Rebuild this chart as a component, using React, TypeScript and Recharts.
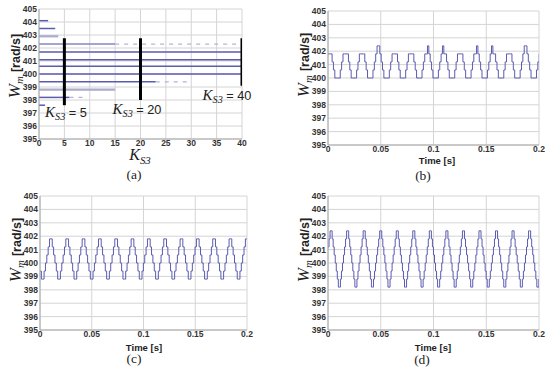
import React from 'react';
import { LineChart, Line, XAxis, YAxis, CartesianGrid } from 'recharts';

// axis ticks
const wTicks = [395, 396, 397, 398, 399, 400, 401, 402, 403, 404, 405];
const kTicks = [0, 5, 10, 15, 20, 25, 30, 35, 40];
const timeTicks = [0, 0.05, 0.1, 0.15, 0.2];

// (a) speed levels visited vs K_S3, and how far along K each one reaches
const levelsA = [397.6, 398.2, 398.8, 399.4, 400.0, 400.6, 401.1, 401.7, 402.3, 402.9, 403.5, 404.1];
const levelEndA = [1.2, 9.4, 15, 30, 40, 40, 40, 40, 40, 3.8, 3.2, 1.8];
const levelSolidToA = [1.2, 6, 15, 23, 40, 40, 40, 40, 15, 3.8, 3.2, 1.8];
// ripple band marked for the three gains
const markK = [5, 20, 40];
const markLow = [397.6, 398.0, 399.1];
const markHigh = [402.75, 402.75, 402.75];

// (b) K_S3 = 5, sampled every DT_B seconds
const DT_B = 0.0155 / 12;
const wmB = [
  401.8, 401.8, 401.8,
  401.2, 400.6, 400, 400, 400, 400, 400.6, 401.2, 401.8, 401.8, 401.8, 401.8,
  401.2, 400.6, 400, 400, 400, 400, 400.6, 401.2, 401.8, 401.8, 401.8, 401.8,
  401.2, 400.6, 400, 400, 400, 400, 400.6, 401.2, 401.8, 402.4, 402.4, 401.8,
  401.2, 400.6, 400, 400, 400, 400, 400.6, 401.2, 401.8, 401.8, 401.8, 401.8,
  401.2, 400.6, 400, 400, 400, 400, 400.6, 401.2, 401.8, 401.8, 401.8, 401.8,
  401.2, 400.6, 400, 400, 400, 400, 400.6, 401.2, 401.8, 401.8, 402.4, 401.8,
  401.2, 400.6, 400, 400, 400, 400, 400.6, 401.2, 401.8, 402.4, 401.8, 401.8,
  401.2, 400.6, 400, 400, 400, 400, 400.6, 401.2, 401.8, 401.8, 401.8, 401.8,
  401.2, 400.6, 400, 400, 400, 400, 400.6, 401.2, 401.8, 401.8, 402.4, 401.8,
  401.2, 400.6, 400, 400, 400, 400, 400.6, 401.2, 401.8, 402.4, 401.8, 401.8,
  401.2, 400.6, 400, 400, 400, 400, 400.6, 401.2, 401.8, 401.8, 401.8, 401.8,
  401.2, 400.6, 400, 400, 400, 400, 400.6, 401.2, 401.8, 402.4, 402.4, 401.8,
  401.2, 400.6, 400, 400, 400, 400, 400.6, 401.2, 401.8,
];

// (c) K_S3 = 20
const DT_C = 0.01577 / 12;
const wmC = [
  399.4,
  398.8, 398.8, 399.4, 400, 400.6, 401.2, 401.8, 401.8, 401.2, 400.6, 400, 399.4,
  398.8, 398.8, 399.4, 400, 400.6, 401.2, 401.8, 401.8, 401.2, 400.6, 400, 399.4,
  398.8, 398.8, 399.4, 400, 400.6, 401.2, 401.8, 401.8, 401.2, 400.6, 400, 399.4,
  398.8, 398.8, 399.4, 400, 400.6, 401.2, 401.8, 401.8, 401.2, 400.6, 400, 399.4,
  398.8, 398.8, 399.4, 400, 400.6, 401.2, 401.8, 401.8, 401.2, 400.6, 400, 399.4,
  398.8, 398.8, 399.4, 400, 400.6, 401.2, 401.8, 401.8, 401.2, 400.6, 400, 399.4,
  398.8, 398.8, 399.4, 400, 400.6, 401.2, 401.8, 401.8, 401.2, 400.6, 400, 399.4,
  398.8, 398.8, 399.4, 400, 400.6, 401.2, 401.8, 401.8, 401.2, 400.6, 400, 399.4,
  398.8, 398.8, 399.4, 400, 400.6, 401.2, 401.8, 401.8, 401.2, 400.6, 400, 399.4,
  398.8, 398.8, 399.4, 400, 400.6, 401.2, 401.8, 401.8, 401.2, 400.6, 400, 399.4,
  398.8, 398.8, 399.4, 400, 400.6, 401.2, 401.8, 401.8, 401.2, 400.6, 400, 399.4,
  398.8, 398.8, 399.4, 400, 400.6, 401.2, 401.8, 401.8, 401.2, 400.6, 400, 399.4,
  398.8, 398.8, 399.4, 400, 400.6, 401.2, 401.8, 401.8, 401.2,
];

// (d) K_S3 = 40
const DT_D = 0.00098;
const wmD = [
  401.2, 401.8, 402.4, 402.4,
  401.8, 401.2, 400.6, 400, 399.4, 398.8, 398.2, 398.2, 398.8, 399.4, 400, 400.6, 401.2, 401.8, 402.4, 402.4,
  401.8, 401.2, 400.6, 400, 399.4, 398.8, 398.2, 398.2, 398.8, 399.4, 400, 400.6, 401.2, 401.8, 402.4, 402.4,
  401.8, 401.2, 400.6, 400, 399.4, 398.8, 398.2, 398.2, 398.8, 399.4, 400, 400.6, 401.2, 401.8, 402.4, 402.4,
  401.8, 401.2, 400.6, 400, 399.4, 398.8, 398.2, 398.2, 398.8, 399.4, 400, 400.6, 401.2, 401.8, 402.4, 402.4,
  401.8, 401.2, 400.6, 400, 399.4, 398.8, 398.2, 398.2, 398.8, 399.4, 400, 400.6, 401.2, 401.8, 402.4, 402.4,
  401.8, 401.2, 400.6, 400, 399.4, 398.8, 398.2, 398.2, 398.8, 399.4, 400, 400.6, 401.2, 401.8, 402.4, 402.4,
  401.8, 401.2, 400.6, 400, 399.4, 398.8, 398.2, 398.2, 398.8, 399.4, 400, 400.6, 401.2, 401.8, 402.4, 402.4,
  401.8, 401.2, 400.6, 400, 399.4, 398.8, 398.2, 398.2, 398.8, 399.4, 400, 400.6, 401.2, 401.8, 402.4, 402.4,
  401.8, 401.2, 400.6, 400, 399.4, 398.8, 398.2, 398.2, 398.8, 399.4, 400, 400.6, 401.2, 401.8, 402.4, 402.4,
  401.8, 401.2, 400.6, 400, 399.4, 398.8, 398.2, 398.2, 398.8, 399.4, 400, 400.6, 401.2, 401.8, 402.4, 402.4,
  401.8, 401.2, 400.6, 400, 399.4, 398.8, 398.2, 398.2, 398.8, 399.4, 400, 400.6, 401.2, 401.8, 402.4, 402.4,
  401.8, 401.2, 400.6, 400, 399.4, 398.8, 398.2, 398.2, 398.8, 399.4, 400, 400.6, 401.2, 401.8, 402.4, 402.4,
  401.8, 401.2, 400.6, 400, 399.4, 398.8, 398.2, 398.2, 398.8, 399.4,
];

const LINE = '#5b5bb0';
const FAINT = '#ababcc';
const levelColorA = [LINE, LINE, FAINT, LINE, LINE, LINE, LINE, LINE, '#8686c4', FAINT, LINE, LINE];

const SANS = '"Liberation Sans", Arial, sans-serif';
const SERIF = '"Liberation Serif", "Times New Roman", serif';
const tickStyle = { fontSize: 8.5, fontWeight: 'bold', fill: '#333', fontFamily: SANS };
const GRID = '#d4d4d4';
const AXIS = { stroke: '#a8a8a8' };

const toSeries = (vals: number[], dt: number) => vals.map((w, i) => ({ t: i * dt, w }));

const Abs = ({ x, y, children, rotate }: { x: number; y: number; children: React.ReactNode; rotate?: boolean }) => (
  <div
    style={{
      position: 'absolute',
      left: x,
      top: y,
      transform: `translate(-50%,-50%)${rotate ? ' rotate(-90deg)' : ''}`,
      whiteSpace: 'nowrap',
      lineHeight: 1,
      color: '#222',
    }}
  >
    {children}
  </div>
);

const WmLabel = () => (
  <span>
    <span style={{ fontFamily: SERIF, fontStyle: 'italic', fontSize: 17 }}>W</span>
    <span style={{ fontFamily: SERIF, fontStyle: 'italic', fontSize: 11, position: 'relative', top: 3 }}>m</span>
    <span style={{ fontFamily: SANS, fontWeight: 'bold', fontSize: 12.5, marginLeft: 4 }}>[rad/s]</span>
  </span>
);

const KLabel = ({ size, tail }: { size: number; tail?: string }) => (
  <span>
    <span style={{ fontFamily: SERIF, fontStyle: 'italic', fontSize: size }}>K</span>
    <span style={{ fontFamily: SERIF, fontStyle: 'italic', fontSize: size * 0.68, position: 'relative', top: size * 0.22 }}>S3</span>
    {tail && <span style={{ fontFamily: SANS, fontSize: size * 0.85 }}> {tail}</span>}
  </span>
);

const TimeLabel = () => <span style={{ fontFamily: SANS, fontWeight: 'bold', fontSize: 9.5 }}>Time [s]</span>;
const PanelTag = ({ text }: { text: string }) => <span style={{ fontFamily: SERIF, fontSize: 13.5 }}>{text}</span>;

const TimeChart = ({ data, left, top, height, marginLeft, marginRight, bottom }: any) => (
  <div style={{ position: 'absolute', left, top }}>
    <LineChart width={275} height={height} data={data} margin={{ top: 11, right: marginRight, bottom, left: 0 }}>
      <CartesianGrid stroke={GRID} />
      <XAxis
        type="number"
        dataKey="t"
        domain={[0, 0.2]}
        ticks={timeTicks}
        interval={0}
        allowDataOverflow
        tickSize={0}
        tickMargin={1}
        height={20}
        axisLine={AXIS}
        tick={tickStyle}
        tickFormatter={(v: number) => String(v)}
      />
      <YAxis
        type="number"
        domain={[395, 405]}
        ticks={wTicks}
        interval={0}
        width={marginLeft}
        tickSize={0}
        tickMargin={2}
        axisLine={AXIS}
        tick={tickStyle}
      />
      <Line type="stepAfter" dataKey="w" stroke={LINE} strokeWidth={1} dot={false} isAnimationActive={false} />
    </LineChart>
  </div>
);

export default function App() {
  const dataB = toSeries(wmB, DT_B);
  const dataC = toSeries(wmC, DT_C);
  const dataD = toSeries(wmD, DT_D);

  return (
    <div style={{ position: 'absolute', left: 0, top: 0, width: 550, height: 373, background: '#fff', overflow: 'hidden' }}>
      {/* (a) */}
      <div style={{ position: 'absolute', left: 0, top: 0 }}>
        <LineChart width={275} height={185} margin={{ top: 9, right: 33, bottom: 26, left: 0 }}>
          <CartesianGrid stroke={GRID} />
          <XAxis
            type="number"
            dataKey="k"
            domain={[0, 40]}
            ticks={kTicks}
            interval={0}
            allowDataOverflow
            tickSize={0}
            tickMargin={1}
            height={20}
            axisLine={AXIS}
            tick={tickStyle}
          />
          <YAxis
            type="number"
            domain={[395, 405]}
            ticks={wTicks}
            interval={0}
            width={39}
            tickSize={0}
            tickMargin={2}
            axisLine={AXIS}
            tick={tickStyle}
          />
          {levelsA.map((w, i) => (
            <Line
              key={`lv${i}`}
              data={[{ k: 0, w }, { k: levelSolidToA[i], w }]}
              dataKey="w"
              stroke={levelColorA[i]}
              strokeWidth={levelColorA[i] === FAINT ? 2.2 : 1.5}
              dot={false}
              isAnimationActive={false}
            />
          ))}
          {levelsA.map((w, i) =>
            levelEndA[i] > levelSolidToA[i] ? (
              <Line
                key={`ld${i}`}
                data={[{ k: levelSolidToA[i], w }, { k: levelEndA[i], w }]}
                dataKey="w"
                stroke="#b4b4d6"
                strokeWidth={1.2}
                strokeDasharray="4 5"
                dot={false}
                isAnimationActive={false}
              />
            ) : null
          )}
          {markK.map((k, i) => (
            <Line
              key={`mk${i}`}
              data={[{ k, w: markLow[i] }, { k, w: markHigh[i] }]}
              dataKey="w"
              stroke="#000"
              strokeWidth={3}
              dot={false}
              isAnimationActive={false}
            />
          ))}
        </LineChart>
      </div>

      <TimeChart data={dataB} left={275} top={0} height={185} marginLeft={53} marginRight={11} bottom={20} />
      <TimeChart data={dataC} left={0} top={185} height={188} marginLeft={40} marginRight={28} bottom={23} />
      <TimeChart data={dataD} left={275} top={185} height={188} marginLeft={53} marginRight={11} bottom={23} />

      {/* axis titles */}
      <Abs x={14} y={66} rotate><WmLabel /></Abs>
      <Abs x={303} y={65} rotate><WmLabel /></Abs>
      <Abs x={15} y={250} rotate><WmLabel /></Abs>
      <Abs x={303} y={250} rotate><WmLabel /></Abs>

      <Abs x={140} y={155}><KLabel size={16} /></Abs>
      <Abs x={437} y={159}><TimeLabel /></Abs>
      <Abs x={144} y={345.5}><TimeLabel /></Abs>
      <Abs x={433} y={345.5}><TimeLabel /></Abs>

      {/* annotations in (a) */}
      <Abs x={66} y={112}><KLabel size={15} tail="= 5" /></Abs>
      <Abs x={137} y={109}><KLabel size={15} tail="= 20" /></Abs>
      <Abs x={227} y={95}><KLabel size={15} tail="= 40" /></Abs>

      {/* panel tags */}
      <Abs x={134} y={174}><PanelTag text="(a)" /></Abs>
      <Abs x={423} y={175}><PanelTag text="(b)" /></Abs>
      <Abs x={134} y={358}><PanelTag text="(c)" /></Abs>
      <Abs x={422} y={359}><PanelTag text="(d)" /></Abs>
    </div>
  );
}
